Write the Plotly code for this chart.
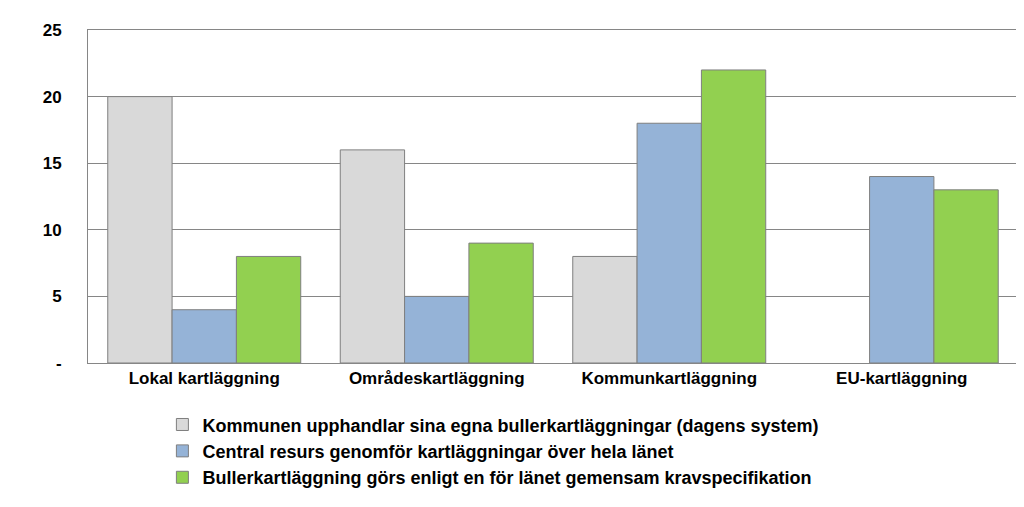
import plotly.graph_objects as go

categories = ["Lokal kartläggning", "Områdeskartläggning", "Kommunkartläggning", "EU-kartläggning"]
series_names = [
    "Kommunen upphandlar sina egna bullerkartläggningar (dagens system)",
    "Central resurs genomför kartläggningar över hela länet",
    "Bullerkartläggning görs enligt en för länet gemensam kravspecifikation",
]
kommunen = [20, 16, 8, None]
central = [4, 5, 18, 14]
gemensam = [8, 9, 22, 13]
colors = ["#D9D9D9", "#95B3D7", "#92D050"]

fig = go.Figure()
for name, vals, col in zip(series_names, [kommunen, central, gemensam], colors):
    fig.add_trace(go.Bar(x=categories, y=vals, name=name, marker_color=col,
                         marker_line=dict(color="#7F7F7F", width=1)))

fig.update_layout(
    width=1024, height=507,
    barmode="group", bargap=0.17, bargroupgap=0,
    plot_bgcolor="white", paper_bgcolor="white",
    margin=dict(l=80, r=14, t=22, b=152, autoexpand=False),
    font=dict(family="Liberation Sans, Arial", size=17, color="black"),
    xaxis=dict(showline=True, linecolor="#868686", mirror=True, automargin=False,
               tickfont=dict(size=17), ticks=""),
    yaxis=dict(range=[0, 25], tickvals=[0, 5, 10, 15, 20, 25],
               ticktext=["-", "5", "10", "15", "20", "25"], automargin=False,
               tickfont=dict(size=17),
               showgrid=True, gridcolor="#868686", gridwidth=1,
               showline=True, linecolor="#868686", mirror=True,
               ticklabelstandoff=22),
    legend=dict(orientation="v", x=0.08, y=-0.13, xanchor="left", yanchor="top",
                font=dict(size=18), itemwidth=30, tracegroupgap=8),
)
fig.update_xaxes(tickfont_weight="bold")
fig.update_yaxes(tickfont_weight="bold")
fig.update_layout(legend_font_weight="bold")

fig.write_html("out.html")
